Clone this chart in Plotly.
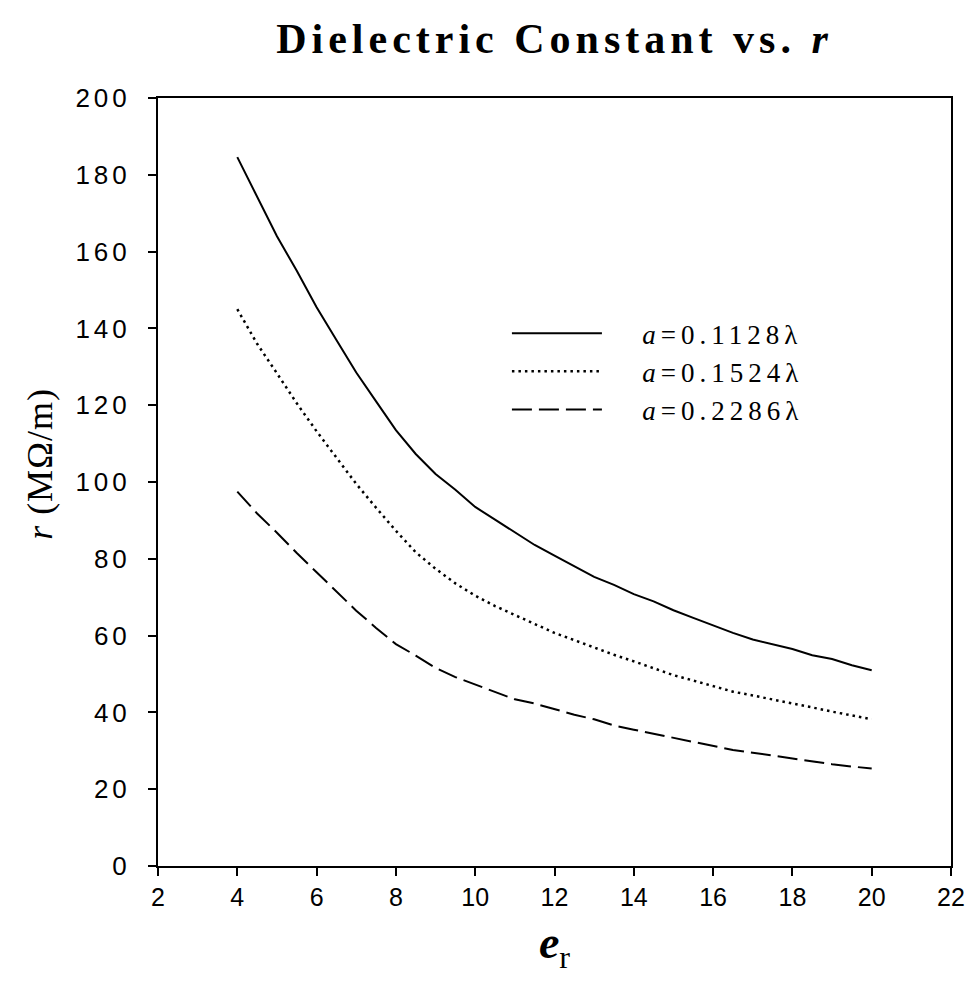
import plotly.graph_objects as go

# relative dielectric constant (x)
er = [4.0, 4.5, 5.0, 5.5, 6.0, 6.5, 7.0, 7.5, 8.0, 8.5, 9.0, 9.5, 10.0, 10.5, 11.0, 11.5,
      12.0, 12.5, 13.0, 13.5, 14.0, 14.5, 15.0, 15.5, 16.0, 16.5, 17.0, 17.5, 18.0, 18.5,
      19.0, 19.5, 20.0]

# r (MOhm/m) for each radius
r_a01128 = [184.6, 174.5, 164.0, 155.0, 145.5, 137.0, 128.5, 121.0, 113.5, 107.3, 102.1, 98.0,
            93.5, 90.2, 86.9, 83.6, 80.8, 78.1, 75.3, 73.2, 70.8, 68.9, 66.6, 64.6, 62.6, 60.7,
            59.0, 57.7, 56.5, 54.9, 53.9, 52.3, 51.0]
r_a01524 = [145.0, 136.0, 128.3, 120.5, 113.2, 106.2, 99.5, 93.3, 87.3, 81.7, 77.4, 73.6,
            70.4, 67.7, 65.4, 63.2, 60.7, 58.8, 56.8, 55.0, 53.3, 51.6, 49.7, 48.3, 46.8, 45.4,
            44.4, 43.4, 42.3, 41.3, 40.2, 39.2, 38.2]
r_a02286 = [97.5, 91.8, 86.8, 81.5, 76.5, 71.5, 66.5, 62.0, 57.8, 54.8, 51.6, 49.2,
            47.3, 45.4, 43.4, 42.3, 40.8, 39.4, 38.2, 36.6, 35.5, 34.4, 33.4, 32.2, 31.2, 30.2,
            29.5, 28.7, 27.9, 27.2, 26.5, 25.9, 25.4]

series_names = ["<i>a</i>=0.1128λ", "<i>a</i>=0.1524λ", "<i>a</i>=0.2286λ"]
x_ticks = [2, 4, 6, 8, 10, 12, 14, 16, 18, 20, 22]
y_ticks = [0, 20, 40, 60, 80, 100, 120, 140, 160, 180, 200]

y_ticktext = [f'<span style="letter-spacing:4px">{t}</span>' for t in y_ticks]
x_ticktext = [str(t) for t in x_ticks]

serif = "Liberation Serif, Times New Roman, serif"
sans = "Liberation Sans, Arial, sans-serif"

W, H = 969, 986

fig = go.Figure()
styles = [("solid", 2), ("2.5px,4px", 2.5), ("20px,7px", 2)]
for ys, name, (d, w) in zip([r_a01128, r_a01524, r_a02286], series_names, styles):
    fig.add_trace(go.Scatter(
        x=er, y=ys, mode="lines",
        name=f'<span style="letter-spacing:5px">&nbsp;&nbsp;&nbsp;{name}</span>',
        line=dict(color="black", width=w, dash=d),
    ))

axis_common = dict(
    showline=True, linecolor="black", linewidth=2, mirror=True,
    ticks="outside", ticklen=8, tickwidth=2, tickcolor="black",
    showgrid=False, zeroline=False, automargin=False,
)

fig.update_layout(
    width=W, height=H,
    paper_bgcolor="white", plot_bgcolor="white",
    margin=dict(l=158, r=18, t=98, b=120),
    title=dict(
        text='<span style="letter-spacing:5px"><b>Dielectric Constant vs. <i>r</i></b></span>',
        font=dict(family=serif, size=42, color="black"),
        x=0.5, xref="paper", xanchor="center",
        y=1 - 38 / H, yref="container", yanchor="middle",
    ),
    xaxis=dict(
        range=[2, 22], tickvals=x_ticks, ticktext=x_ticktext,
        tickfont=dict(family=sans, size=25, color="black"),
        title=dict(text='<b><i>e</i></b><sub>r</sub>',
                   font=dict(family=serif, size=46, color="black"), standoff=16),
        **axis_common,
    ),
    yaxis=dict(
        range=[0, 200], tickvals=y_ticks, ticktext=y_ticktext,
        tickfont=dict(family=sans, size=26, color="black"),
        ticklabelstandoff=12,
        title=dict(text='&nbsp;&nbsp;&nbsp;&nbsp;<span style="letter-spacing:1px"><i>r</i> (MΩ/m)</span>',
                   font=dict(family=serif, size=36, color="black"), standoff=12),
        **axis_common,
    ),
    showlegend=True,
    legend=dict(
        x=0.44, y=0.725, xanchor="left", yanchor="top",
        font=dict(family=serif, size=27, color="black"),
        bgcolor="rgba(0,0,0,0)", itemwidth=90, tracegroupgap=0,
    ),
)

# remove the page's default body margin so the figure fills the window exactly
fig.write_html(
    "out.html",
    config={"displayModeBar": False},
    post_script="document.body.style.margin='0px';document.body.style.overflow='hidden';",
)
